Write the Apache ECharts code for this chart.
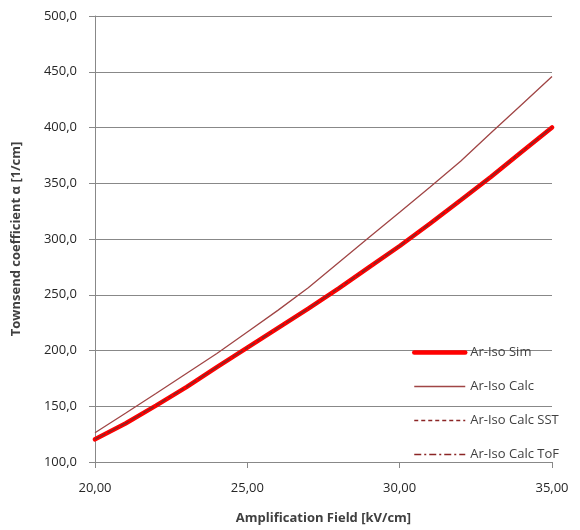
<!DOCTYPE html>
<html>
<head>
<meta charset="utf-8">
<script src="https://cdn.jsdelivr.net/npm/echarts@6/dist/echarts.min.js"></script>
<style>
  html, body { margin: 0; padding: 0; background: #fff; }
  #chart { width: 580px; height: 530px; }
</style>
</head>
<body>
<div id="chart"></div>
<script>
// Feld in kV/cm
const fields = [20, 21, 22, 23, 24, 25, 26, 27, 28, 29, 30, 31, 32, 33, 34, 35]
const simValues = [120.3, 134.5, 150.6, 167.2, 185.0, 202.5, 220.0, 237.5, 255.7, 274.7, 293.7, 313.9, 334.8, 355.9, 378.0, 400.0]
const calcValues = [126.3, 143.7, 161.5, 179.4, 197.3, 216.6, 236.0, 256.3, 279.0, 301.6, 324.0, 346.6, 369.8, 395.3, 420.4, 445.7]
const sstValues = [120.5, 134.7, 150.8, 167.4, 185.2, 202.6, 220.2, 237.6, 255.9, 274.8, 293.9, 314.0, 335.0, 356.0, 378.2, 400.2]
const tofValues = [120.4, 134.6, 150.7, 167.3, 185.1, 202.5, 220.1, 237.6, 255.8, 274.7, 293.8, 314.0, 334.9, 356.0, 378.1, 400.1]
const seriesNames = ['Ar-Iso Sim', 'Ar-Iso Calc', 'Ar-Iso Calc SST', 'Ar-Iso Calc ToF']

const font = 'Open Sans, Noto Sans, sans-serif'
const pairs = (ys) => fields.map((x, i) => [x, ys[i]])

const option = {
  animation: false,
  textStyle: { fontFamily: font },
  grid: { left: 95, right: 28, top: 16, bottom: 66 },
  legend: {
    orient: 'vertical',
    left: 407,
    top: 341,
    itemWidth: 51,
    itemHeight: 14,
    itemGap: 21,
    data: [
      { name: seriesNames[0], lineStyle: { width: 4.5 } },
      { name: seriesNames[1], lineStyle: { width: 1.3 } },
      { name: seriesNames[2], lineStyle: { width: 1.3 } },
      { name: seriesNames[3], lineStyle: { width: 1.3 } },
    ],
    itemStyle: { opacity: 0 },
    textStyle: { color: '#404040', fontSize: 13, fontFamily: font },
  },
  xAxis: {
    type: 'value',
    min: 20,
    max: 35,
    interval: 5,
    name: 'Amplification Field [kV/cm]',
    nameLocation: 'middle',
    nameGap: 50,
    nameTextStyle: { fontWeight: 'bold', fontSize: 13, color: '#404040', fontFamily: font },
    axisLine: { lineStyle: { color: '#888', width: 1 } },
    axisTick: { show: true, length: 6, lineStyle: { color: '#888' } },
    axisLabel: {
      color: '#262626',
      fontSize: 13,
      margin: 20,
      formatter: (v) => v.toFixed(2).replace('.', ','),
    },
    splitLine: { show: false },
  },
  yAxis: {
    type: 'value',
    min: 100,
    max: 500,
    interval: 50,
    name: 'Townsend coefficient α [1/cm]',
    nameLocation: 'middle',
    nameGap: 72,
    nameTextStyle: { fontWeight: 'bold', fontSize: 13, color: '#404040', fontFamily: font },
    axisLine: { show: true, lineStyle: { color: '#888', width: 1 } },
    axisTick: { show: true, length: 6, lineStyle: { color: '#888' } },
    axisLabel: {
      color: '#262626',
      fontSize: 13,
      margin: 18,
      formatter: (v) => v.toFixed(1).replace('.', ','),
    },
    splitLine: { lineStyle: { color: '#888', width: 1 } },
  },
  series: [
    {
      name: seriesNames[0],
      type: 'line',
      symbol: 'none',
      data: pairs(simValues),
      lineStyle: { color: '#ff0000', width: 4.5, cap: 'round' },
      itemStyle: { color: '#ff0000' },
    },
    {
      name: seriesNames[1],
      type: 'line',
      symbol: 'none',
      data: pairs(calcValues),
      lineStyle: { color: '#a04545', width: 1.3 },
      itemStyle: { color: '#a04545' },
    },
    {
      name: seriesNames[2],
      type: 'line',
      symbol: 'none',
      data: pairs(sstValues),
      lineStyle: { color: '#8b2525', width: 1.3, type: [4, 3] },
      itemStyle: { color: '#8b2525' },
    },
    {
      name: seriesNames[3],
      type: 'line',
      symbol: 'none',
      data: pairs(tofValues),
      lineStyle: { color: '#8b2525', width: 1.3, type: [7, 3, 2, 3] },
      itemStyle: { color: '#8b2525' },
    },
  ],
}

const myChart = echarts.init(document.getElementById('chart'))
myChart.setOption(option, true)
</script>
</body>
</html>
